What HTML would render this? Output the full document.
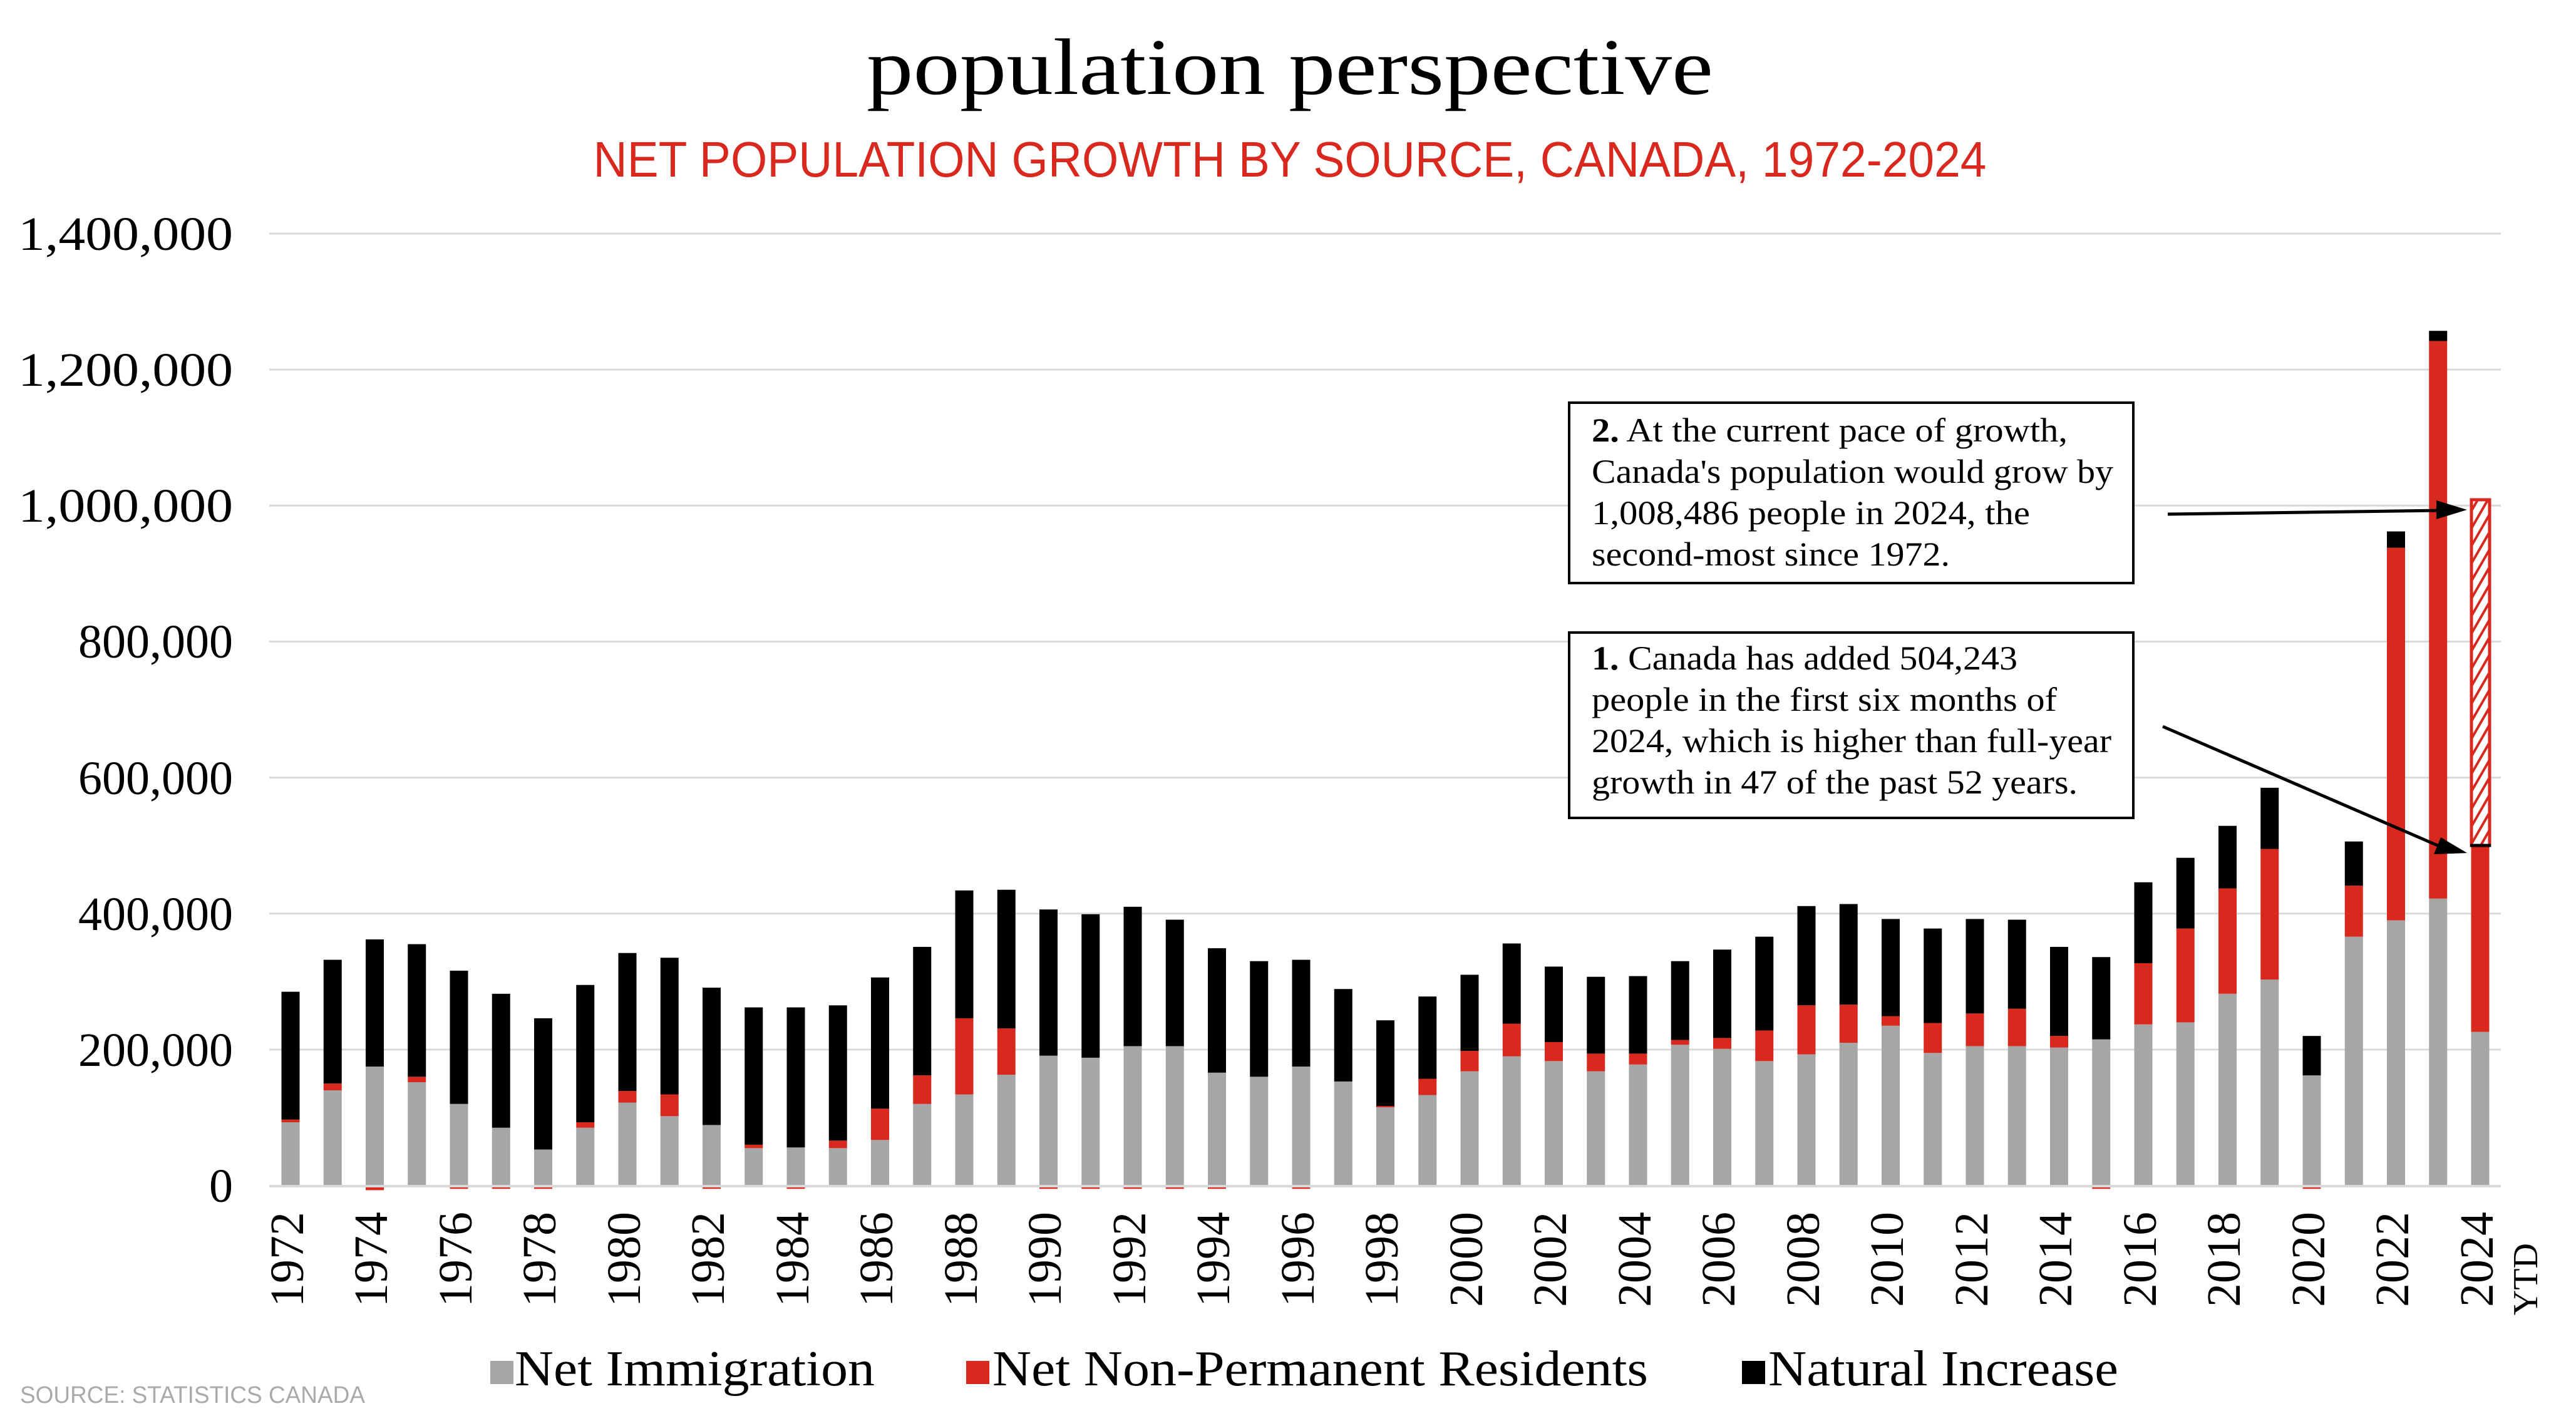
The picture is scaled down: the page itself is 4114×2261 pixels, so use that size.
<!DOCTYPE html>
<html><head><meta charset="utf-8"><style>
html,body{margin:0;padding:0;background:#fff;}
svg{display:block;}
</style></head><body>
<svg id="c" width="4114" height="2261" viewBox="0 0 4114 2261" xmlns="http://www.w3.org/2000/svg">
<defs>
<pattern id="hatch" patternUnits="userSpaceOnUse" width="14" height="14" patternTransform="rotate(-60)">
<rect width="14" height="14" fill="#fff"/>
<line x1="0" y1="4" x2="14" y2="4" stroke="#d9291f" stroke-width="4"/>
</pattern>
</defs>
<rect width="4114" height="2261" fill="#fff"/>
<text x="2060" y="150" text-anchor="middle" font-family="Liberation Serif, serif" font-size="128" textLength="1352" lengthAdjust="spacingAndGlyphs">population perspective</text>
<text x="2060" y="282" text-anchor="middle" font-family="Liberation Sans, sans-serif" font-size="80" fill="#d9291f" textLength="2225" lengthAdjust="spacingAndGlyphs">NET POPULATION GROWTH BY SOURCE, CANADA, 1972-2024</text>
<g id="grid" stroke="#d9d9d9" stroke-width="3"></g>
<g font-family="Liberation Serif, serif" font-size="76" text-anchor="end">
<text x="372" y="399" textLength="343" lengthAdjust="spacingAndGlyphs">1,400,000</text>
<text x="372" y="616" textLength="343" lengthAdjust="spacingAndGlyphs">1,200,000</text>
<text x="372" y="833" textLength="343" lengthAdjust="spacingAndGlyphs">1,000,000</text>
<text x="372" y="1050">800,000</text>
<text x="372" y="1268">600,000</text>
<text x="372" y="1485">400,000</text>
<text x="372" y="1702">200,000</text>
<text x="372" y="1919">0</text>
</g>
<g id="bars"></g>
<rect x="3947" y="798" width="29" height="552" fill="url(#hatch)" stroke="#d9291f" stroke-width="5"/>
<line x1="3945" y1="1350" x2="3978" y2="1350" stroke="#000" stroke-width="5"/>
<g font-family="Liberation Serif, serif" font-size="76" text-anchor="end">
<text transform="translate(484,1935) rotate(-90)">1972</text>
<text transform="translate(618,1935) rotate(-90)">1974</text>
<text transform="translate(753,1935) rotate(-90)">1976</text>
<text transform="translate(887,1935) rotate(-90)">1978</text>
<text transform="translate(1022,1935) rotate(-90)">1980</text>
<text transform="translate(1156,1935) rotate(-90)">1982</text>
<text transform="translate(1291,1935) rotate(-90)">1984</text>
<text transform="translate(1425,1935) rotate(-90)">1986</text>
<text transform="translate(1560,1935) rotate(-90)">1988</text>
<text transform="translate(1694,1935) rotate(-90)">1990</text>
<text transform="translate(1829,1935) rotate(-90)">1992</text>
<text transform="translate(1963,1935) rotate(-90)">1994</text>
<text transform="translate(2098,1935) rotate(-90)">1996</text>
<text transform="translate(2232,1935) rotate(-90)">1998</text>
<text transform="translate(2367,1935) rotate(-90)">2000</text>
<text transform="translate(2501,1935) rotate(-90)">2002</text>
<text transform="translate(2636,1935) rotate(-90)">2004</text>
<text transform="translate(2770,1935) rotate(-90)">2006</text>
<text transform="translate(2905,1935) rotate(-90)">2008</text>
<text transform="translate(3039,1935) rotate(-90)">2010</text>
<text transform="translate(3174,1935) rotate(-90)">2012</text>
<text transform="translate(3308,1935) rotate(-90)">2014</text>
<text transform="translate(3443,1935) rotate(-90)">2016</text>
<text transform="translate(3577,1935) rotate(-90)">2018</text>
<text transform="translate(3712,1935) rotate(-90)">2020</text>
<text transform="translate(3846,1935) rotate(-90)">2022</text>
<text transform="translate(3981,1935) rotate(-90)">2024</text>
<text transform="translate(4052,1985) rotate(-90)" font-size="56">YTD</text>
</g>
<rect x="2506" y="643" width="901" height="288" fill="#fff" stroke="#000" stroke-width="4"/>
<rect x="2506" y="1010" width="901" height="296" fill="#fff" stroke="#000" stroke-width="4"/>
<g font-family="Liberation Serif, serif" font-size="54">
<text x="2542" y="705" textLength="760" lengthAdjust="spacingAndGlyphs"><tspan font-weight="bold">2.</tspan> At the current pace of growth,</text>
<text x="2542" y="771" textLength="833" lengthAdjust="spacingAndGlyphs">Canada's population would grow by</text>
<text x="2542" y="837" textLength="700" lengthAdjust="spacingAndGlyphs">1,008,486 people in 2024, the</text>
<text x="2542" y="903" textLength="572" lengthAdjust="spacingAndGlyphs">second-most since 1972.</text>
<text x="2542" y="1069" textLength="680" lengthAdjust="spacingAndGlyphs"><tspan font-weight="bold">1.</tspan> Canada has added 504,243</text>
<text x="2542" y="1135" textLength="743" lengthAdjust="spacingAndGlyphs">people in the first six months of</text>
<text x="2542" y="1201" textLength="830" lengthAdjust="spacingAndGlyphs">2024, which is higher than full-year</text>
<text x="2542" y="1267" textLength="776" lengthAdjust="spacingAndGlyphs">growth in 47 of the past 52 years.</text>
</g>
<g stroke="#000" stroke-width="5">
<line x1="3462" y1="821" x2="3900" y2="815"/>
<line x1="3454" y1="1160" x2="3900" y2="1353"/>
</g>
<polygon points="3940,814 3891,799 3891,829" fill="#000"/>
<polygon points="3940,1362 3898,1337 3887,1364" fill="#000"/>
<rect x="783" y="2173" width="37" height="37" fill="#a6a6a6"/>
<rect x="1543" y="2173" width="37" height="37" fill="#d9291f"/>
<rect x="2782" y="2173" width="37" height="37" fill="#000"/>
<g font-family="Liberation Serif, serif" font-size="80">
<text x="822" y="2212" textLength="575" lengthAdjust="spacingAndGlyphs">Net Immigration</text>
<text x="1585" y="2212" textLength="1047" lengthAdjust="spacingAndGlyphs">Net Non-Permanent Residents</text>
<text x="2824" y="2212" textLength="559" lengthAdjust="spacingAndGlyphs">Natural Increase</text>
</g>
<text x="32" y="2240" font-family="Liberation Sans Narrow, Liberation Sans, sans-serif" font-size="38" fill="#aaa" textLength="551" lengthAdjust="spacingAndGlyphs">SOURCE: STATISTICS CANADA</text>
</svg>
<script>
(function(){
var NS="http://www.w3.org/2000/svg";
var Z=1893,k=1.0857;
var g=document.getElementById("grid");
for(var i=1;i<=7;i++){var y=Z-i*200*k;var l=document.createElementNS(NS,"line");
l.setAttribute("x1",430);l.setAttribute("x2",3994);l.setAttribute("y1",y);l.setAttribute("y2",y);g.appendChild(l);}
var d=[[93,4,285],[140,10,332],[175,-5,362],[152,8,355],[120,-3,316],[85,-3,282],[53,-3,246],[85,8,295],[122,17,342],[102,32,335],[89,-3,291],[55,5,262],[56,-3,262],[55,11,265],[67,46,306],[120,42,351],[134,112,434],[163,68,435],[191,-3,406],[188,-3,399],[205,-3,410],[205,-3,391],[166,-3,349],[160,0,330],[175,-3,332],[153,0,289],[115,2,243],[133,24,278],[168,30,310],[190,48,356],[183,28,322],[168,26,307],[178,16,308],[207,7,330],[201,16,347],[183,45,366],[193,72,411],[210,56,414],[235,14,392],[195,44,378],[205,48,392],[205,55,391],[203,17,351],[215,-3,336],[237,90,446],[240,138,482],[282,155,529],[303,192,585],[162,-3,220],[366,75,506],[390,548,962],[422,820,1257],[226,274,500]];
var b=document.getElementById("bars");
function r(x,y0,y1,c){var e=document.createElementNS(NS,"rect");e.setAttribute("x",x);e.setAttribute("y",Math.min(y0,y1));e.setAttribute("width",29);e.setAttribute("height",Math.abs(y1-y0));e.setAttribute("fill",c);b.appendChild(e);}
for(var i=0;i<d.length;i++){var cx=464+i*67.25,x=cx-14.5,v=d[i];
r(x,Z,Z-v[0]*k,"#a6a6a6");
if(v[1]>0){r(x,Z-v[0]*k,Z-(v[0]+v[1])*k,"#d9291f");}else if(v[1]<0){r(x,Z+2,Z+2-v[1]*k,"#d9291f");}
var top=v[0]+Math.max(v[1],0);if(v[2]>top)r(x,Z-top*k,Z-v[2]*k,"#000");}
var bl=document.createElementNS(NS,"line");bl.setAttribute("x1",430);bl.setAttribute("x2",3994);bl.setAttribute("y1",Z+1);bl.setAttribute("y2",Z+1);bl.setAttribute("stroke","#d9d9d9");bl.setAttribute("stroke-width",4);b.appendChild(bl);
})();
</script>
</body></html>
